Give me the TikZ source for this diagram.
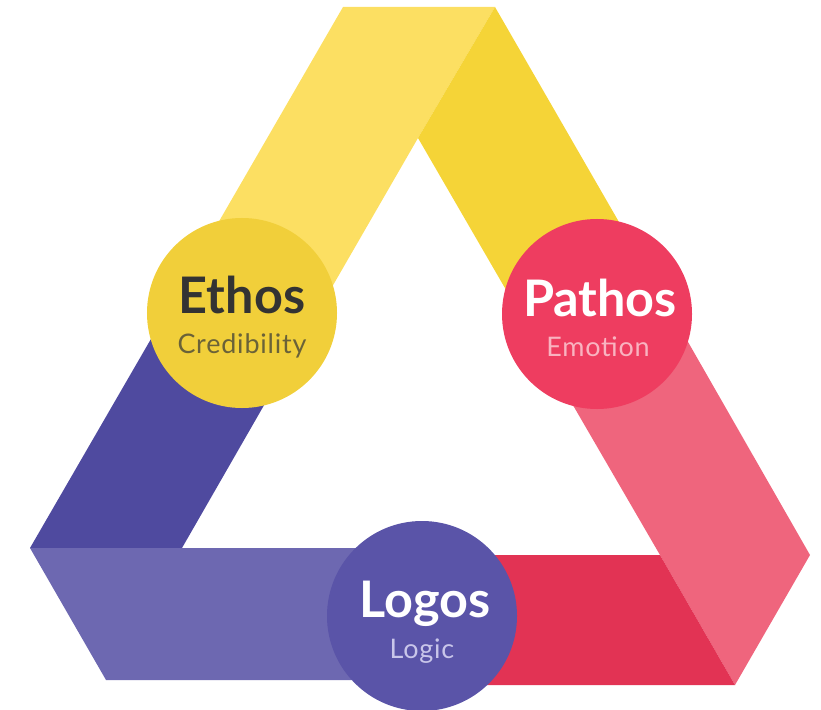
\documentclass[tikz,border=0pt]{standalone}
\usepackage{fontspec}
\setmainfont{Lato}
\newfontfamily\subfont[LetterSpace=3]{Lato}
\usetikzlibrary{positioning}

\definecolor{yellowLight}{HTML}{FCDF62}
\definecolor{yellowDark}{HTML}{F5D437}
\definecolor{ethosFill}{HTML}{F1CF3A}
\definecolor{redLight}{HTML}{EF657D}
\definecolor{redDark}{HTML}{E23354}
\definecolor{pathosFill}{HTML}{EE3D60}
\definecolor{purpleDark}{HTML}{4F4A9F}
\definecolor{purpleLight}{HTML}{6D68B1}
\definecolor{logosFill}{HTML}{5A54A8}
\definecolor{ethosText}{HTML}{333333}
\definecolor{ethosSub}{HTML}{6A6238}
\definecolor{pathosSub}{HTML}{F9B3C0}
\definecolor{logosSub}{HTML}{C9C6EA}

\begin{document}
\begin{tikzpicture}[x=0.03cm, y=-0.03cm,
    appeal/.style={circle, minimum size=5.7cm, inner sep=0pt},
    title/.style={anchor=base, font=\fontsize{43}{47}\selectfont\bfseries},
    subtitle/.style={anchor=base, font=\subfont\fontsize{23}{26}\selectfont}]
    % Fix the page to the reference size
    \useasboundingbox (0,0) rectangle (821,710);

    % Left band: light yellow on top, dark purple below
    \fill[yellowLight] (343,7) -- (495,7) -- (418,138) -- (317,313) -- (166,313) -- cycle;
    \fill[purpleDark] (166,313) -- (317,313) -- (182,548) -- (30,548) -- cycle;

    % Right band: dark yellow on top, light red below
    \fill[yellowDark] (495,7) -- (672,314) -- (520,314) -- (418,138) -- cycle;
    \fill[redLight] (520,314) -- (672,314) -- (810,555) -- (735,685) -- (660,555) -- cycle;

    % Bottom band: light purple left, dark red right
    \fill[purpleLight] (30,548) -- (422,548) -- (422,680) -- (106,680) -- cycle;
    \fill[redDark] (422,555) -- (660,555) -- (735,685) -- (422,685) -- cycle;

    % The three appeals
    \node[appeal, fill=ethosFill] (ethos) at (242,313) {};
    \node[appeal, fill=pathosFill] (pathos) at (597,314) {};
    \node[appeal, fill=logosFill] (logos) at (422,616) {};

    % Labels
    \node[title, text=ethosText] (ethos-t) at (242,313) {Ethos};
    \node[subtitle, text=ethosSub] (ethos-s) at (242,353) {Credibility};
    \node[title, text=white] (pathos-t) at (600,316) {Pathos};
    \node[subtitle, text=pathosSub] (pathos-s) at (598,356) {Emotion};
    \node[title, text=white] (logos-t) at (425,617) {Logos};
    \node[subtitle, text=logosSub] (logos-s) at (422,658) {Logic};
\end{tikzpicture}
\end{document}
